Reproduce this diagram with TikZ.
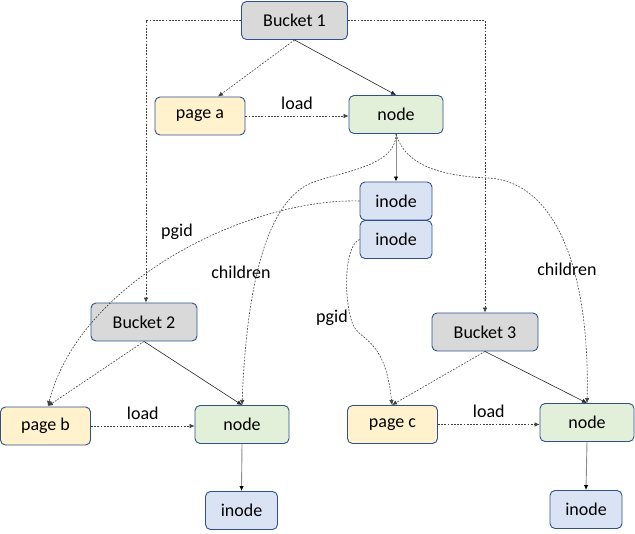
\documentclass[tikz,border=0pt]{standalone}
\usepackage{fontspec}
\setmainfont{Carlito}
\usetikzlibrary{arrows.meta}
\definecolor{bord}{HTML}{2F528F}
\definecolor{gfill}{HTML}{D9D9D9}
\definecolor{yfill}{HTML}{FFF2CC}
\definecolor{grfill}{HTML}{E2F0D9}
\definecolor{bfill}{HTML}{DAE3F3}
\tikzset{
  box/.style={draw=bord, line width=0.9pt, rounded corners=5pt, minimum height=38pt, inner sep=0pt, font=\fontsize{18}{21}\selectfont},
  bucket/.style={box, fill=gfill, minimum width=106pt},
  pagebox/.style={box, fill=yfill, minimum width=90pt},
  nodebox/.style={box, fill=grfill, minimum width=94pt},
  inodebox/.style={box, fill=bfill, minimum width=72pt},
  tip/.style={-{Latex[length=5pt,width=4.5pt]}},
  solidc/.style={tip, line width=0.6pt, black!85},
  grayc/.style={tip, line width=0.9pt, black!45, -{Latex[length=5pt,width=4.5pt,fill=black,color=black]}},
  dashc/.style={tip, line width=0.6pt, black!75, dash pattern=on 1.8pt off 1.4pt},
  lbl/.style={font=\fontsize{18}{21}\selectfont, text=black}
}
\begin{document}
\begin{tikzpicture}[x=1pt,y=-1pt]
\useasboundingbox (0,0) rectangle (635,534);
\node[bucket] (b1) at (294.5,20.5) {Bucket 1};
\node[pagebox] (pa) at (200,116) {page a};
\node[nodebox] (na) at (396,114.5) {node};
\node[inodebox] (i1) at (396,201) {inode};
\node[inodebox] (i2) at (396,239.5) {inode};
\node[bucket] (b2) at (144,322) {Bucket 2};
\node[bucket] (b3) at (485,332) {Bucket 3};
\node[pagebox] (pb) at (45.5,426) {page b};
\node[nodebox] (nb) at (242,424.5) {node};
\node[pagebox] (pc) at (392.5,424.5) {page c};
\node[nodebox] (nc) at (587,422.5) {node};
\node[inodebox] (ib) at (241.5,510.5) {inode};
\node[inodebox] (ic) at (586,509.5) {inode};

\coordinate (b1l) at (146,20.5);
\coordinate (b1r) at (485,20.5);
\draw[dashc] (b1.west) -- (b1l) -- (b2.north -| b1l);
\draw[dashc] (b1.east) -- (b1r) -- (b3.north);
\draw[dashc] (b1.south) -- (pa.north -| 218,0);
\draw[solidc] (b1.south) -- (na.north);
\draw[dashc] (pa.east) -- (pa.east -| na.west) node[lbl, midway, above=3pt] {load};
\draw[grayc] (na.south) -- (i1.north);

\draw[dashc] (na.south) .. controls (396,170) and (330,172) .. (305,186)
  .. controls (262,212) and (246,300) .. (nb.north);
\node[lbl] (lch1) at (241,272) {children};
\draw[dashc] (na.south) .. controls (405,165) and (440,176) .. (488,178)
  .. controls (560,182) and (590,280) .. (nc.north);
\node[lbl] (lch2) at (567,269) {children};
\coordinate (pbt) at (48,406);
\draw[dashc] (i1.west) .. controls (250,198) and (80,280) .. (pbt);
\node[lbl] (lpg1) at (177,232) {pgid};
\coordinate (pct) at (392,405);
\draw[dashc] (i2.west) .. controls (345,245) and (343,295) .. (352,322)
  .. controls (358,342) and (385,335) .. (pct);
\node[lbl] (lpg2) at (332,318) {pgid};

\draw[dashc] (b2.south) -- (pbt);
\draw[solidc] (b2.south) -- (nb.north);
\draw[dashc] (b3.south) -- (pct);
\draw[solidc] (b3.south) -- (nc.north);
\draw[dashc] (pb.east) -- (pb.east -| nb.west) node[lbl, midway, above=3pt] {load};
\draw[dashc] (pc.east) -- (pc.east -| nc.west) node[lbl, midway, above=3pt] {load};
\draw[grayc] (nb.south) -- (ib.north);
\draw[grayc] (nc.south) -- (ic.north);
\end{tikzpicture}
\end{document}
